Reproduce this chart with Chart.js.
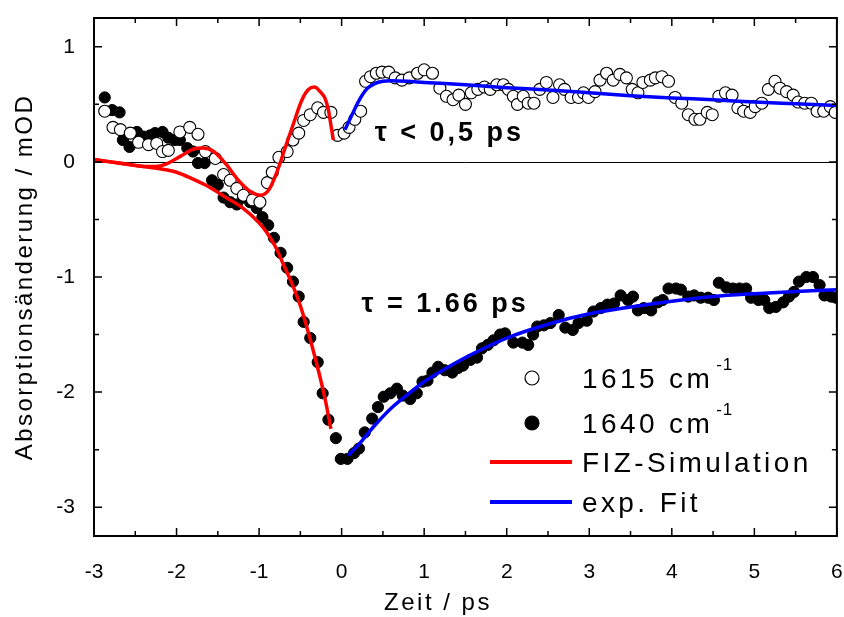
<!DOCTYPE html>
<html>
<head>
<meta charset="utf-8">
<script src="https://cdn.jsdelivr.net/npm/chart.js@4"></script>
<style>
  body { margin: 0; background: #fff; }
  #wrap { width: 844px; height: 617px; }
</style>
</head>
<body>
<div id="wrap"><canvas id="myChart" width="844" height="617"></canvas></div>
<script>
// measured data, 1615 cm-1 (open circles)
const timeOpen = [-2.87,-2.77,-2.68,-2.56,-2.46,-2.34,-2.24,-2.17,-2.10,-1.96,-1.84,-1.74,-1.65,-1.53,-1.43,-1.35,-1.27,-1.19,-1.08,-0.99,
  -0.90,-0.84,-0.76,-0.66,-0.59,-0.52,-0.46,-0.38,-0.29,-0.22,-0.13,-0.05,0.03,0.09,0.16,0.23,0.29,0.35,0.42,0.49,
  0.57,0.65,0.73,0.82,0.92,1.00,1.10,1.19,1.27,1.35,1.42,1.50,1.57,1.65,1.73,1.80,1.88,1.96,2.02,2.08,
  2.13,2.20,2.26,2.33,2.40,2.48,2.56,2.64,2.70,2.78,2.87,2.93,2.99,3.07,3.13,3.21,3.29,3.37,3.45,3.52,
  3.59,3.65,3.74,3.80,3.88,3.96,4.04,4.12,4.20,4.28,4.34,4.43,4.49,4.57,4.65,4.73,4.80,4.87,4.95,5.01,
  5.09,5.17,5.25,5.31,5.39,5.47,5.53,5.61,5.69,5.76,5.84,5.92,5.98];
const valOpen = [0.44,0.30,0.28,0.25,0.17,0.15,0.16,0.09,0.10,0.26,0.30,0.24,0.09,0.03,-0.11,-0.16,-0.23,-0.29,-0.33,-0.35,
  -0.18,-0.09,0.04,0.09,0.19,0.25,0.36,0.41,0.47,0.43,0.43,0.23,0.25,0.30,0.37,0.44,0.70,0.74,0.77,0.78,
  0.78,0.73,0.71,0.73,0.77,0.80,0.77,0.64,0.57,0.54,0.58,0.50,0.60,0.63,0.65,0.63,0.67,0.67,0.63,0.57,
  0.50,0.57,0.51,0.51,0.63,0.69,0.56,0.67,0.63,0.56,0.56,0.60,0.56,0.61,0.71,0.77,0.71,0.76,0.73,0.63,
  0.60,0.69,0.71,0.73,0.74,0.70,0.56,0.51,0.41,0.37,0.37,0.43,0.41,0.57,0.60,0.58,0.47,0.44,0.43,0.48,
  0.51,0.63,0.70,0.64,0.61,0.58,0.52,0.51,0.51,0.44,0.44,0.48,0.43];

// measured data, 1640 cm-1 (filled circles)
const timeFilled = [-2.87,-2.78,-2.69,-2.65,-2.57,-2.48,-2.40,-2.32,-2.26,-2.17,-2.10,-2.02,-1.96,-1.87,-1.80,-1.74,-1.66,-1.57,-1.50,-1.43,
  -1.35,-1.27,-1.19,-1.11,-1.03,-0.96,-0.89,-0.82,-0.74,-0.66,-0.59,-0.52,-0.46,-0.38,-0.29,-0.23,-0.16,-0.07,-0.01,0.07,
  0.15,0.21,0.28,0.37,0.44,0.51,0.59,0.67,0.74,0.83,0.91,0.98,1.04,1.10,1.17,1.25,1.34,1.41,1.47,1.56,
  1.64,1.70,1.77,1.84,1.92,1.98,2.08,2.19,2.26,2.32,2.37,2.45,2.53,2.63,2.71,2.80,2.87,2.97,3.05,3.14,
  3.22,3.30,3.38,3.47,3.53,3.59,3.66,3.75,3.83,3.89,3.96,4.05,4.11,4.20,4.27,4.35,4.44,4.51,4.57,4.66,
  4.74,4.82,4.90,4.96,5.05,5.12,5.18,5.26,5.35,5.42,5.48,5.54,5.63,5.71,5.79,5.85,5.93,5.99];
const valFilled = [0.56,0.45,0.43,0.19,0.13,0.26,0.22,0.23,0.25,0.26,0.21,0.19,0.19,0.12,0.09,-0.01,-0.01,-0.16,-0.20,-0.31,
  -0.35,-0.37,-0.31,-0.35,-0.40,-0.48,-0.55,-0.66,-0.79,-0.92,-1.04,-1.17,-1.39,-1.53,-1.74,-2.01,-2.24,-2.40,-2.58,-2.58,
  -2.53,-2.49,-2.35,-2.23,-2.13,-2.04,-2.01,-1.97,-2.03,-2.06,-2.01,-1.91,-1.90,-1.83,-1.78,-1.81,-1.83,-1.79,-1.77,-1.72,
  -1.70,-1.62,-1.59,-1.55,-1.50,-1.49,-1.57,-1.57,-1.59,-1.50,-1.43,-1.42,-1.40,-1.33,-1.44,-1.46,-1.40,-1.38,-1.30,-1.27,
  -1.24,-1.23,-1.16,-1.20,-1.17,-1.29,-1.27,-1.29,-1.22,-1.20,-1.10,-1.10,-1.11,-1.17,-1.16,-1.18,-1.18,-1.20,-1.05,-1.09,
  -1.10,-1.10,-1.10,-1.18,-1.20,-1.20,-1.27,-1.26,-1.22,-1.17,-1.13,-1.04,-1.00,-1.00,-1.07,-1.16,-1.17,-1.18];

// FIZ simulation curves (red)
const simTimeOpen = [-3.0,-2.8,-2.6,-2.4,-2.25,-2.1,-1.95,-1.8,-1.68,-1.55,-1.4,-1.25,-1.1,-0.98,-0.88,-0.78,-0.68,-0.58,-0.48,-0.4,-0.33,-0.26,-0.2,-0.16,-0.13,-0.10];
const simValOpen = [0.02,0.0,-0.02,-0.04,-0.04,-0.01,0.05,0.11,0.12,0.09,-0.02,-0.16,-0.26,-0.29,-0.24,-0.08,0.13,0.34,0.54,0.63,0.65,0.61,0.55,0.45,0.32,0.19];
const simTimeFilled = [-3.0,-2.8,-2.6,-2.4,-2.2,-2.0,-1.8,-1.6,-1.4,-1.2,-1.0,-0.9,-0.8,-0.7,-0.6,-0.5,-0.4,-0.3,-0.2,-0.13];
const simValFilled = [0.02,0.0,-0.02,-0.04,-0.06,-0.09,-0.15,-0.22,-0.31,-0.40,-0.53,-0.62,-0.74,-0.90,-1.06,-1.25,-1.49,-1.76,-2.06,-2.32];

// exponential fits (blue)
const fitTimeOpen = [0.04,0.12,0.2,0.3,0.4,0.5,0.6,0.8,1.0,1.5,2.0,2.5,3.0,3.5,4.0,4.5,5.0,5.5,6.0];
const fitValOpen = [0.28,0.40,0.52,0.63,0.68,0.70,0.705,0.70,0.69,0.67,0.645,0.625,0.60,0.575,0.555,0.54,0.52,0.505,0.49];
const fitTimeFilled = [0.08,0.2,0.4,0.6,0.8,1.0,1.25,1.5,1.75,2.0,2.5,3.0,3.5,4.0,4.5,5.0,5.5,6.0];
const fitValFilled = [-2.55,-2.46,-2.29,-2.14,-2.02,-1.91,-1.80,-1.70,-1.61,-1.53,-1.41,-1.32,-1.26,-1.21,-1.17,-1.145,-1.125,-1.11];

const xTicks = [-3, -2, -1, 0, 1, 2, 3, 4, 5, 6];
const yTicks = [-3, -2, -1, 0, 1];
const seriesNames = ["1615 cm", "1640 cm", "FIZ-Simulation", "exp. Fit"];

function pairs(xs, ys) {
    return xs.map((x, i) => ({ x: x, y: ys[i] }));
}

const FONT = "'Liberation Sans', Arial, sans-serif";

// frame, inward ticks, zero line, labels and legend
const decor = {
    id: "decor",
    beforeDatasetsDraw(chart) {
        const { ctx, chartArea: a, scales: { y } } = chart;
        ctx.save();
        ctx.strokeStyle = "#000";
        ctx.lineWidth = 1;
        const y0 = Math.round(y.getPixelForValue(0)) + 0.5;
        ctx.beginPath();
        ctx.moveTo(a.left, y0);
        ctx.lineTo(a.right, y0);
        ctx.stroke();
        ctx.restore();
    },
    afterDatasetsDraw(chart) {
        const { ctx, chartArea: a, scales: { x, y } } = chart;
        ctx.save();
        ctx.strokeStyle = "#000";
        ctx.lineWidth = 2;
        ctx.strokeRect(a.left, a.top, a.right - a.left, a.bottom - a.top);

        ctx.lineWidth = 1.5;
        ctx.beginPath();
        for (let v = -3; v <= 6; v += 0.5) {
            let px = x.getPixelForValue(v);
            let len = Number.isInteger(v) ? 8 : 5;
            ctx.moveTo(px, a.bottom); ctx.lineTo(px, a.bottom - len);
            ctx.moveTo(px, a.top); ctx.lineTo(px, a.top + len);
        }
        for (let v = -3; v <= 1; v += 0.5) {
            let py = y.getPixelForValue(v);
            let len = Number.isInteger(v) ? 8 : 5;
            ctx.moveTo(a.left, py); ctx.lineTo(a.left + len, py);
            ctx.moveTo(a.right, py); ctx.lineTo(a.right - len, py);
        }
        ctx.stroke();

        // tau annotations
        ctx.fillStyle = "#000";
        ctx.letterSpacing = "3px";
        ctx.font = "bold 27px " + FONT;
        ctx.textAlign = "left";
        ctx.textBaseline = "alphabetic";
        ctx.fillText("\u03C4 < 0,5 ps", x.getPixelForValue(0.40), y.getPixelForValue(0.18));
        ctx.fillText("\u03C4 = 1.66 ps", x.getPixelForValue(0.24), y.getPixelForValue(-1.30));

        // legend
        const symX = a.left + 438;
        const textX = a.left + 488;
        const rows = [a.top + 360, a.top + 405, a.top + 444, a.top + 484];
        for (let i = 0; i < 4; i++) {
            let cy = rows[i];
            if (i === 0 || i === 1) {
                ctx.beginPath();
                ctx.arc(symX, cy, 7, 0, Math.PI * 2);
                ctx.fillStyle = i === 0 ? "#fff" : "#000";
                ctx.fill();
                ctx.lineWidth = 1.2;
                ctx.strokeStyle = "#000";
                ctx.stroke();
            } else {
                ctx.beginPath();
                ctx.moveTo(symX - 42, cy);
                ctx.lineTo(symX + 40, cy);
                ctx.lineWidth = 4;
                ctx.strokeStyle = i === 2 ? "#ff0000" : "#0000ff";
                ctx.stroke();
            }
            ctx.fillStyle = "#000";
            ctx.letterSpacing = "3.4px";
            ctx.font = "28px " + FONT;
            ctx.fillText(seriesNames[i], textX, cy + 10);
            if (i < 2) {
                let w = ctx.measureText(seriesNames[i]).width;
                ctx.font = "17px " + FONT;
                ctx.letterSpacing = "1px";
                ctx.fillText("-1", textX + w + 3, cy - 8);
            }
        }

        // axis titles
        ctx.font = "24px " + FONT;
        ctx.letterSpacing = "2.5px";
        ctx.textAlign = "center";
        ctx.textBaseline = "middle";
        ctx.fillText("Zeit / ps", a.left + 344, 603);
        ctx.translate(25, (a.top + a.bottom) / 2);
        ctx.rotate(-Math.PI / 2);
        ctx.fillText("Absorptions\u00E4nderung / mOD", 0, 0);
        ctx.restore();
    }
};

new Chart("myChart", {
    type: "scatter",
    data: {
        datasets: [
            {
                type: "line",
                label: "exp. Fit",
                data: pairs(fitTimeOpen, fitValOpen),
                borderColor: "#0000ff",
                borderWidth: 3.5,
                pointRadius: 0,
                cubicInterpolationMode: "monotone"
            },
            {
                type: "line",
                label: "exp. Fit",
                data: pairs(fitTimeFilled, fitValFilled),
                borderColor: "#0000ff",
                borderWidth: 3.5,
                pointRadius: 0,
                cubicInterpolationMode: "monotone"
            },
            {
                type: "line",
                label: "FIZ-Simulation",
                data: pairs(simTimeOpen, simValOpen),
                borderColor: "#ff0000",
                borderWidth: 3.5,
                pointRadius: 0,
                cubicInterpolationMode: "monotone"
            },
            {
                type: "line",
                label: "FIZ-Simulation",
                data: pairs(simTimeFilled, simValFilled),
                borderColor: "#ff0000",
                borderWidth: 3.5,
                pointRadius: 0,
                cubicInterpolationMode: "monotone"
            },
            {
                label: "1615 cm-1",
                data: pairs(timeOpen, valOpen),
                pointRadius: 6,
                pointBackgroundColor: "#fff",
                pointBorderColor: "#000",
                pointBorderWidth: 1.1
            },
            {
                label: "1640 cm-1",
                data: pairs(timeFilled, valFilled),
                pointRadius: 5.6,
                pointBackgroundColor: "#000",
                pointBorderColor: "#000",
                pointBorderWidth: 1
            }
        ]
    },
    options: {
        responsive: false,
        animation: false,
        layout: { padding: { top: 18, right: 7, left: 0, bottom: 0 } },
        plugins: {
            legend: { display: false },
            tooltip: { enabled: false }
        },
        scales: {
            x: {
                type: "linear",
                min: -3,
                max: 6,
                grid: { display: false },
                border: { display: false },
                afterBuildTicks: s => { s.ticks = xTicks.map(v => ({ value: v })); },
                afterFit: s => { s.height = 617 - 536; s.paddingLeft = 0; s.paddingRight = 0; },
                ticks: {
                    color: "#000",
                    font: { family: FONT, size: 21 },
                    padding: 16,
                    maxRotation: 0,
                    callback: v => String(v)
                }
            },
            y: {
                type: "linear",
                min: -3.25,
                max: 1.25,
                grid: { display: false },
                border: { display: false },
                afterBuildTicks: s => { s.ticks = yTicks.map(v => ({ value: v })); },
                afterFit: s => { s.width = 94; s.paddingTop = 0; s.paddingBottom = 0; },
                ticks: {
                    color: "#000",
                    font: { family: FONT, size: 21 },
                    padding: 11,
                    callback: v => String(v)
                }
            }
        }
    },
    plugins: [decor]
});
</script>
</body>
</html>
